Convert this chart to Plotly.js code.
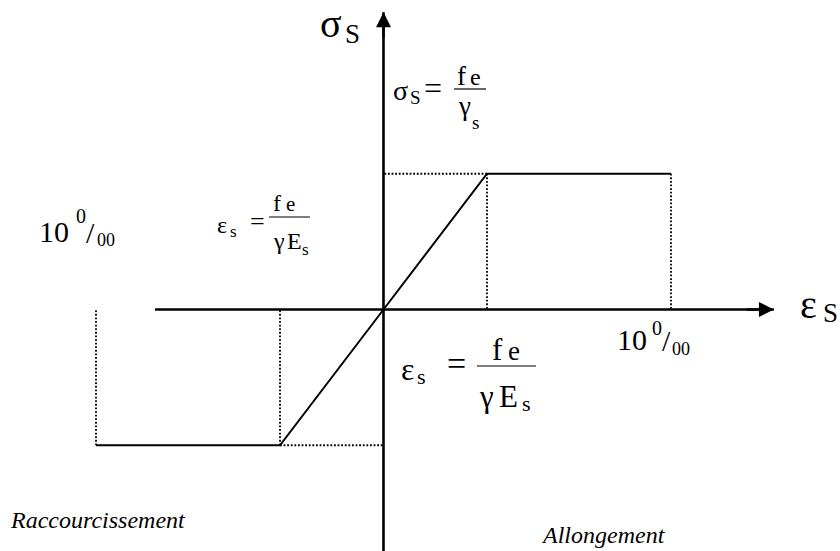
<!DOCTYPE html>
<html>
<head>
<meta charset="utf-8">
<script src="https://cdn.plot.ly/plotly-3.0.1.min.js"></script>
</head>
<body style="margin:0;background:#fff">
<div id="chart" style="width:840px;height:551px"></div>
<script>
// Idealised elastic / perfectly plastic steel law (strain in per-mille, stress normalised to fe/γs)
const strain = [-10, -3.6, 0, 3.6, 10];
const stress = [-1, -1, 0, 1, 1];

// Extents of the two drawn axes (data units)
const strainAxis = [-7.95, 13.58];
const stressAxis = [-1.78, 2.19];

const W = 840, H = 551;
const FONT = 'Liberation Serif';

// pixel -> paper helpers for text placement
const px = v => v / W;
const py = v => 1 - v / H;

// dotted guides from the yield points back to the axes
const guides = [];
[1, 3].forEach(i => {
  guides.push({ x: [strain[i], strain[i]], y: [stress[i], 0] });
  guides.push({ x: [strain[i], 0], y: [stress[i], stress[i]] });
});
[0, 4].forEach(i => {
  guides.push({ x: [strain[i], strain[i]], y: [stress[i], 0] });
});

const traces = guides.map(g => ({
  type: 'scatter', mode: 'lines', x: g.x, y: g.y,
  line: { color: '#000', width: 1.8, dash: '1.8px,1.8px' },
  hoverinfo: 'skip', showlegend: false
}));

// horizontal and vertical axis lines
traces.push({
  type: 'scatter', mode: 'lines',
  x: [strainAxis[0], strainAxis[1]], y: [0, 0],
  line: { color: '#000', width: 2.6 }, hoverinfo: 'skip', showlegend: false
});
traces.push({
  type: 'scatter', mode: 'lines',
  x: [0, 0], y: [stressAxis[0], stressAxis[1]],
  line: { color: '#000', width: 2.6 }, hoverinfo: 'skip', showlegend: false
});

// the stress-strain law itself
traces.push({
  type: 'scatter', mode: 'lines', x: strain, y: stress,
  line: { color: '#000', width: 2 }, hoverinfo: 'skip', showlegend: false
});

// one plain text run placed by its left edge and baseline (pixels)
function run(text, size, left, baseline, style) {
  return {
    xref: 'paper', yref: 'paper', x: px(left), y: py(baseline - 0.3375 * size),
    xanchor: 'left', yanchor: 'middle', text: text, showarrow: false,
    borderpad: 0, borderwidth: 0,
    font: { family: FONT, size: size, color: '#000', style: style || 'normal' }
  };
}

// formula pieces: [text, size, left, baseline]
const formulaRuns = [
  // axis names σS and εS
  ['σ', 40, 320, 37], ['S', 27, 345, 43],
  ['ε', 40, 800, 318], ['S', 27, 823, 322],

  // σS = fe / γs
  ['σ', 28, 393, 100], ['S', 19, 410, 104], ['=', 32, 424, 99],
  ['f', 27, 457, 85], ['e', 24, 470, 85],
  ['γ', 27, 458, 115], ['s', 19, 472, 129],

  // εs = fe / γEs (left)
  ['ε', 24, 217, 233], ['s', 17, 230, 237], ['=', 26, 250, 230],
  ['f', 24, 273, 211], ['e', 21, 286, 211],
  ['γ', 24, 273, 249], ['E', 24, 287, 249], ['s', 17, 302, 255],

  // εs = fe / γEs (below the origin)
  ['ε', 32, 401, 380], ['s', 22, 417, 384], ['=', 34, 447, 375],
  ['f', 31, 492, 360], ['e', 27, 508, 360],
  ['γ', 31, 479, 407], ['E', 31, 499, 407], ['s', 22, 522, 411],

  // 10 ‰ on the compression side
  ['10', 30, 39, 242], ['0', 20, 76, 223], ['/', 30, 86, 243], ['00', 18, 97, 246],
  // 10 ‰ on the tension side
  ['10', 30, 617, 350], ['0', 20, 652, 335], ['/', 30, 662, 351], ['00', 18, 672, 355]
];

const annotations = formulaRuns.map(r => run(r[0], r[1], r[2], r[3]));

// arrowheads at the axis ends
annotations.push(
  { xref: 'x', yref: 'y', axref: 'x', ayref: 'y', x: strainAxis[1], y: 0,
    ax: strainAxis[1] - 1, ay: 0, text: '', showarrow: true,
    arrowhead: 2, arrowsize: 1.2, arrowwidth: 2.5, arrowcolor: '#000' },
  { xref: 'x', yref: 'y', axref: 'x', ayref: 'y', x: 0, y: stressAxis[1],
    ax: 0, ay: stressAxis[1] - 0.2, text: '', showarrow: true,
    arrowhead: 2, arrowsize: 1.2, arrowwidth: 2.5, arrowcolor: '#000' }
);

// region names
annotations.push(run('Raccourcissement', 24, 10, 528, 'italic'));
annotations.push(run('Allongement', 24, 541, 543, 'italic'));

// fraction bars
const bar = (x0, x1, y) => ({
  type: 'line', xref: 'paper', yref: 'paper',
  x0: px(x0), x1: px(x1), y0: py(y), y1: py(y),
  line: { color: '#000', width: 1.2 }
});
const shapes = [bar(454, 486, 89), bar(269, 310, 217), bar(477, 536, 366)];

const layout = {
  width: W, height: H,
  margin: { l: 0, r: 0, t: 0, b: 0 },
  paper_bgcolor: '#fff', plot_bgcolor: '#fff',
  xaxis: { range: [-13.339, 15.878], visible: false, fixedrange: true },
  yaxis: { range: [-1.779, 2.280], visible: false, fixedrange: true },
  showlegend: false,
  annotations: annotations,
  shapes: shapes
};

Plotly.newPlot('chart', traces, layout, { displayModeBar: false, staticPlot: true });
</script>
</body>
</html>
